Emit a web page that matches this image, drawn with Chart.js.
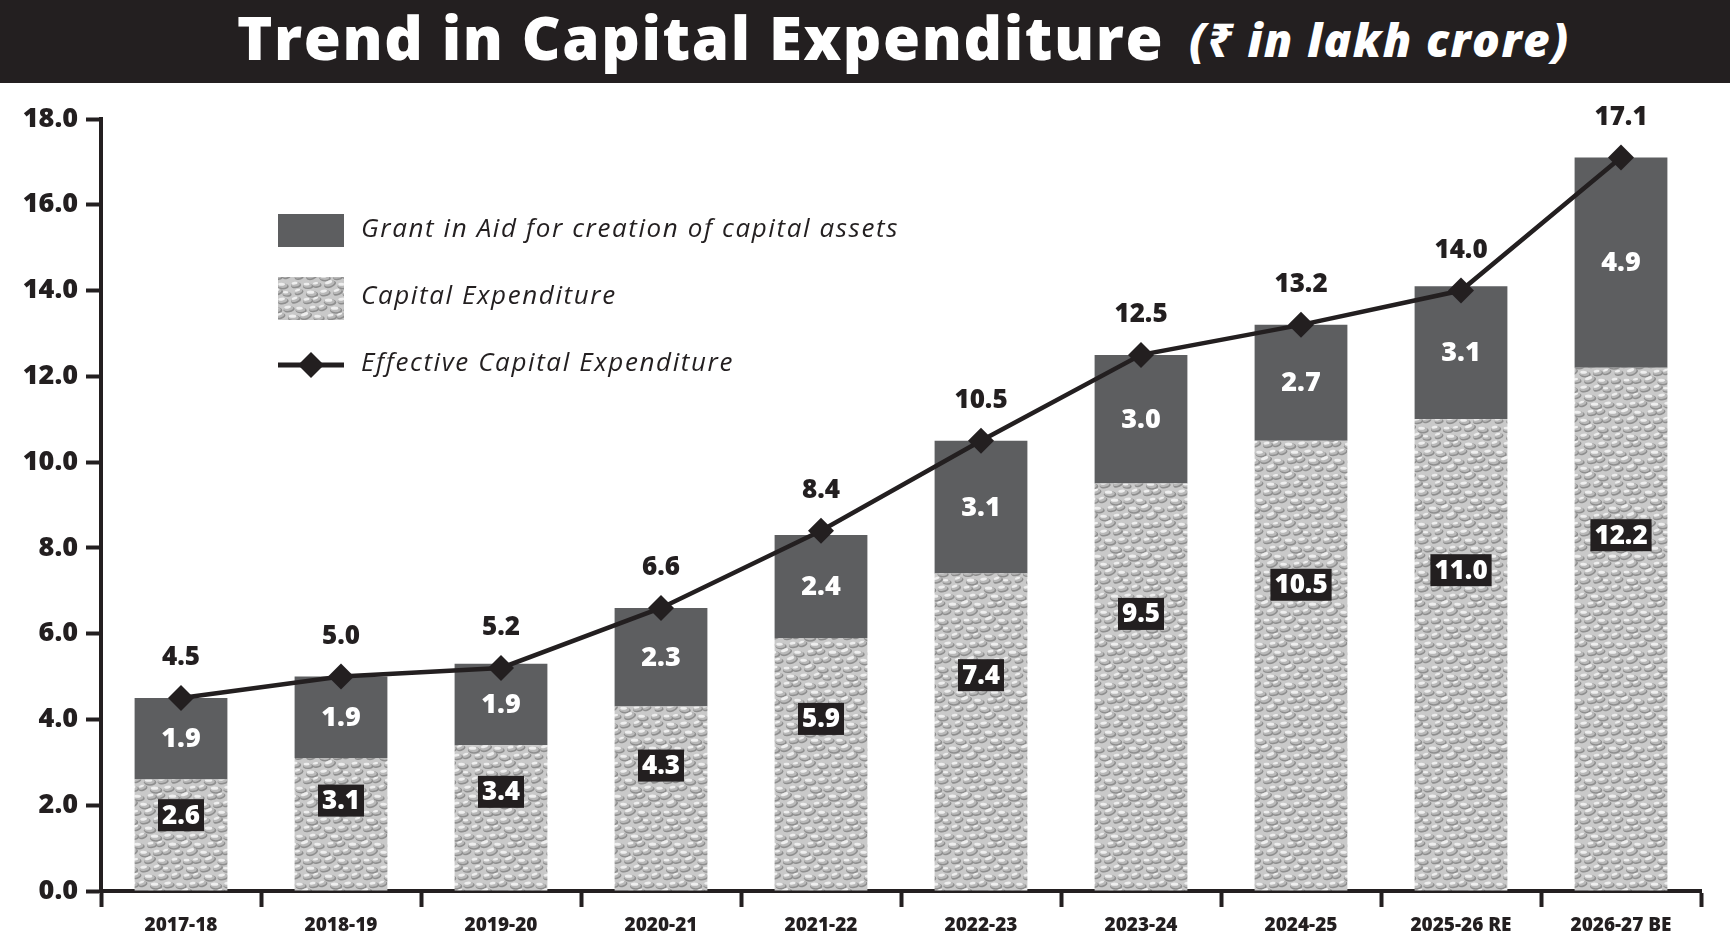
<!DOCTYPE html>
<html>
<head>
<meta charset="utf-8">
<script src="https://cdn.jsdelivr.net/npm/chart.js@4.4.1/dist/chart.umd.min.js"></script>
<style>
  html, body { margin:0; padding:0; background:#fff; }
  #wrap { position:relative; width:1730px; height:935px; overflow:hidden; }
  #title { position:absolute; left:0; top:0; width:1730px; height:83px; background:#231f20; color:#fff;
           font-family:"Open Sans","Noto Sans",sans-serif; white-space:nowrap; }
  #title .t { position:absolute; left:237px; top:-4px; font-size:60px; font-weight:800; line-height:83px; letter-spacing:1.6px; }
  #title .s { position:absolute; left:1189px; top:-2px; font-size:46px; font-weight:800; font-style:italic; line-height:83px; letter-spacing:1.4px; }
  canvas { position:absolute; left:0; top:0; }
</style>
</head>
<body>
<div id="wrap">
  <canvas id="c" width="1730" height="935"></canvas>
  <div id="title"><span class="t">Trend in Capital Expenditure</span><span class="s">(₹ in lakh crore)</span></div>
</div>
<script>
// ============ DATA ============
const years     = ['2017-18','2018-19','2019-20','2020-21','2021-22','2022-23','2023-24','2024-25','2025-26 RE','2026-27 BE'];
const capex     = [2.6, 3.1, 3.4, 4.3, 5.9, 7.4, 9.5, 10.5, 11.0, 12.2];
const grant     = [1.9, 1.9, 1.9, 2.3, 2.4, 3.1, 3.0, 2.7, 3.1, 4.9];
const effective = [4.5, 5.0, 5.2, 6.6, 8.4, 10.5, 12.5, 13.2, 14.0, 17.1];
const yTicks    = [0, 2, 4, 6, 8, 10, 12, 14, 16, 18];
const seriesNames = ['Grant in Aid for creation of capital assets', 'Capital Expenditure', 'Effective Capital Expenditure'];

const INK = '#231f20';
const GRANT = '#5d5e60';
const FONT = '"Open Sans","Noto Sans",sans-serif';

// hammered-metal style texture for the capital expenditure bars
function pebblePattern(ctx) {
  const W = 60, H = 48;
  const c = document.createElement('canvas'); c.width = W; c.height = H;
  const g = c.getContext('2d');
  g.fillStyle = '#c9c9c9'; g.fillRect(0, 0, W, H);
  for (let r = 0; r < 6; r++) for (let k = 0; k < 5; k++) {
    const cx = k*12 + (r%2)*6 + ((r*3+k)%4) - 1.5;
    const cy = r*8 + 4 + ((r+k*2)%3) - 1;
    const sz = 0.8 + ((r*5 + k*3)%4) * 0.1;
    const rot = -0.35 + ((r+2*k)%3)*0.18;
    for (const dx of [-W, 0, W]) for (const dy of [-H, 0, H]) {
      g.fillStyle = '#8e8e8e';
      g.beginPath(); g.ellipse(cx+dx+0.6, cy+dy+1.4, 5.6*sz, 3.0*sz, rot, 0, Math.PI*2); g.fill();
      g.fillStyle = '#b9b9b9';
      g.beginPath(); g.ellipse(cx+dx, cy+dy+0.4, 4.8*sz, 2.5*sz, rot, 0, Math.PI*2); g.fill();
      g.fillStyle = '#eeeeee';
      g.beginPath(); g.ellipse(cx+dx-0.9, cy+dy-0.8, 3.4*sz, 1.5*sz, rot, 0, Math.PI*2); g.fill();
    }
  }
  return ctx.createPattern(c, 'repeat');
}

const canvas = document.getElementById('c');
const ctx0 = canvas.getContext('2d');
const PEBBLE = pebblePattern(ctx0);

// ============ LABELS ============
const valueLabels = {
  id: 'valueLabels',
  afterDatasetsDraw(chart) {
    const { ctx, scales: { y } } = chart;
    const capMeta = chart.getDatasetMeta(0);
    const lineMeta = chart.getDatasetMeta(2);
    ctx.save();
    ctx.textAlign = 'center';
    ctx.textBaseline = 'middle';
    years.forEach((yr, i) => {
      const cx = capMeta.data[i].x;
      // capital expenditure: white on black box
      ctx.font = `800 26px ${FONT}`;
      const t1 = capex[i].toFixed(1);
      const y1 = y.getPixelForValue(capex[i] * 0.68);
      const w1 = ctx.measureText(t1).width + 8;
      ctx.fillStyle = INK;
      ctx.fillRect(cx - w1/2, y1 - 16, w1, 32);
      ctx.fillStyle = '#fff';
      ctx.fillText(t1, cx, y1 + 1);
      // grant in aid: white in the middle of the segment
      ctx.font = `800 27px ${FONT}`;
      ctx.fillText(grant[i].toFixed(1), cx, y.getPixelForValue(capex[i] + grant[i]/2) + 1);
      // effective: black above the marker
      const p = lineMeta.data[i];
      ctx.fillStyle = INK;
      ctx.font = `800 26px ${FONT}`;
      ctx.fillText(effective[i].toFixed(1), p.x, p.y - 40);
    });
    ctx.restore();
  }
};

const legendBox = {
  id: 'legendBox',
  afterDraw(chart) {
    const { ctx } = chart;
    ctx.save();
    ctx.fillStyle = GRANT;
    ctx.fillRect(278, 214, 66, 33);
    ctx.fillStyle = PEBBLE;
    ctx.fillRect(278, 277, 66, 43);
    ctx.strokeStyle = INK; ctx.lineWidth = 5;
    ctx.beginPath(); ctx.moveTo(278, 365); ctx.lineTo(344, 365); ctx.stroke();
    ctx.fillStyle = INK;
    ctx.beginPath();
    ctx.moveTo(311, 352); ctx.lineTo(324, 365); ctx.lineTo(311, 378); ctx.lineTo(298, 365);
    ctx.closePath(); ctx.fill();
    ctx.font = `italic 500 26px ${FONT}`;
    if ('letterSpacing' in ctx) ctx.letterSpacing = '1.6px';
    ctx.textBaseline = 'middle';
    ctx.textAlign = 'left';
    ctx.fillText(seriesNames[0], 361, 230);
    ctx.fillText(seriesNames[1], 361, 297);
    ctx.fillText(seriesNames[2], 361, 364);
    ctx.restore();
  }
};

// ============ CHART ============
new Chart(canvas, {
  data: {
    labels: years,
    datasets: [
      { type: 'bar', label: seriesNames[1], data: capex, backgroundColor: PEBBLE, stack: 'ce', order: 1,
        barPercentage: 0.58, categoryPercentage: 1 },
      { type: 'bar', label: seriesNames[0], data: grant, backgroundColor: GRANT, stack: 'ce', order: 1,
        barPercentage: 0.58, categoryPercentage: 1 },
      { type: 'line', label: seriesNames[2], data: effective, stack: 'line', order: 0,
        borderColor: INK, borderWidth: 4.5, pointStyle: 'rectRot', pointRadius: 13,
        pointBackgroundColor: INK, pointBorderColor: INK, pointBorderWidth: 0, tension: 0 }
    ]
  },
  options: {
    responsive: false,
    animation: false,
    devicePixelRatio: 1,
    layout: { padding: { top: 119, right: 29, left: 0, bottom: 0 } },
    plugins: { legend: { display: false }, tooltip: { enabled: false } },
    scales: {
      x: {
        stacked: true,
        offset: true,
        grid: { offset: true, drawOnChartArea: false, drawTicks: true, tickLength: 16, tickWidth: 4, tickColor: INK },
        border: { display: true, width: 4, color: INK },
        ticks: { color: INK, font: { family: FONT, size: 19, weight: '800' }, padding: 7, maxRotation: 0, autoSkip: false },
        afterFit: s => { s.height = 44; }
      },
      y: {
        stacked: true,
        min: 0, max: 18,
        afterBuildTicks: s => { s.ticks = yTicks.map(v => ({ value: v })); },
        grid: { drawOnChartArea: false, drawTicks: true, tickLength: 15, tickWidth: 4, tickColor: INK },
        border: { display: true, width: 4, color: INK },
        ticks: { color: INK, font: { family: FONT, size: 27, weight: '800' }, padding: 8,
                 callback: v => Number(v).toFixed(1) },
        afterFit: s => { s.width = 101; }
      }
    }
  },
  plugins: [valueLabels, legendBox]
});
</script>
</body>
</html>
